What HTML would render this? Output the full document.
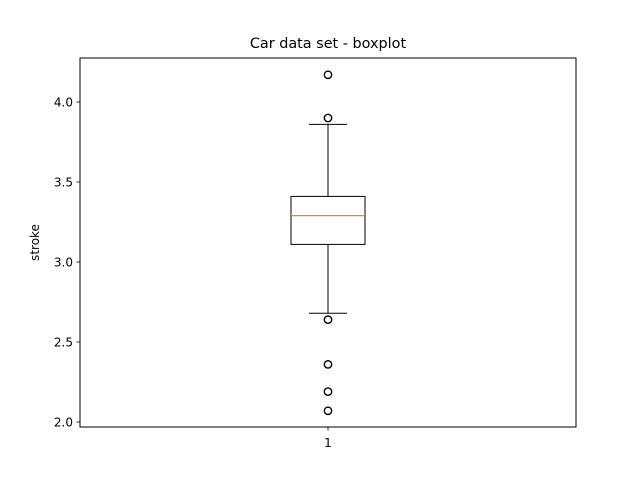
<!DOCTYPE html>
<html><head><meta charset="utf-8"><style>
html,body{margin:0;padding:0;background:#fff;}
svg{display:block;font-family:"DejaVu Sans","Liberation Sans",sans-serif;}
</style></head><body>
<svg id="chart" width="640" height="480" viewBox="0 0 640 480">
<rect x="0" y="0" width="640" height="480" fill="#fff"/>
<text x="328" y="48" font-size="14.4" text-anchor="middle">Car data set - boxplot</text>
<text transform="translate(39,242.5) rotate(-90)" font-size="12" text-anchor="middle">stroke</text>
<g id="marks"></g>
<rect x="80" y="58" width="496" height="369" fill="none" stroke="#000" stroke-width="1"/>
</svg>
<script>
const yTicks = [2.0, 2.5, 3.0, 3.5, 4.0];
const yTickLabels = ["2.0", "2.5", "3.0", "3.5", "4.0"];
const categories = ["1"];
const q1 = [3.11];
const median = [3.29];
const q3 = [3.41];
const whiskerLow = [2.68];
const whiskerHigh = [3.86];
const fliers = [4.17, 3.90, 2.64, 2.36, 2.19, 2.07];

const NS = "http://www.w3.org/2000/svg";
const g = document.getElementById("marks");
function y(v){ return 262 - (v - 3.0) * 160; }
function x(i){ return 328 + i * 0; }
function mk(tag, attrs){
  const e = document.createElementNS(NS, tag);
  for (const k in attrs) e.setAttribute(k, attrs[k]);
  g.appendChild(e);
  return e;
}
yTicks.forEach((t, i) => {
  const tk = mk("line", {x1: 76.5, x2: 80, y1: y(t), y2: y(t), stroke: "#000", "stroke-width": 0.8});
  
  
  const lb = mk("text", {x: 73, y: y(t) + 4.5, "font-size": 12, "text-anchor": "end"});
  lb.textContent = yTickLabels[i];
  
  
});
categories.forEach((c, i) => {
  const cx = x(i);
  const xt = mk("line", {x1: cx, x2: cx, y1: 427, y2: 430.5, stroke: "#000", "stroke-width": 0.8});
  
  
  const xl = mk("text", {x: cx, y: 447, "font-size": 12, "text-anchor": "middle"});
  xl.textContent = c;
  
  
  const hw = 37, cw = 19;
  const w1 = mk("line", {x1: cx, x2: cx, y1: y(q1[i]), y2: y(whiskerLow[i]), stroke: "#000"});
  
  
  const w2 = mk("line", {x1: cx, x2: cx, y1: y(q3[i]), y2: y(whiskerHigh[i]), stroke: "#000"});
  
  
  const c1 = mk("line", {x1: cx - cw, x2: cx + cw, y1: y(whiskerLow[i]), y2: y(whiskerLow[i]), stroke: "#000"});
  
  
  const c2 = mk("line", {x1: cx - cw, x2: cx + cw, y1: y(whiskerHigh[i]), y2: y(whiskerHigh[i]), stroke: "#000"});
  
  
  const bx = mk("rect", {x: cx - hw, y: y(q3[i]), width: hw * 2, height: y(q1[i]) - y(q3[i]), fill: "none", stroke: "#000"});
  
  
  const md = mk("line", {x1: cx - hw, x2: cx + hw, y1: y(median[i]), y2: y(median[i]), stroke: "#ff7f0e", "stroke-width": 1.2});
  
  
  fliers.forEach(f => {
    const o = mk("circle", {cx: cx, cy: y(f), r: 3.7, fill: "none", stroke: "#000", "stroke-width": 1.4});
    
    
  });
});
</script>
</body></html>
